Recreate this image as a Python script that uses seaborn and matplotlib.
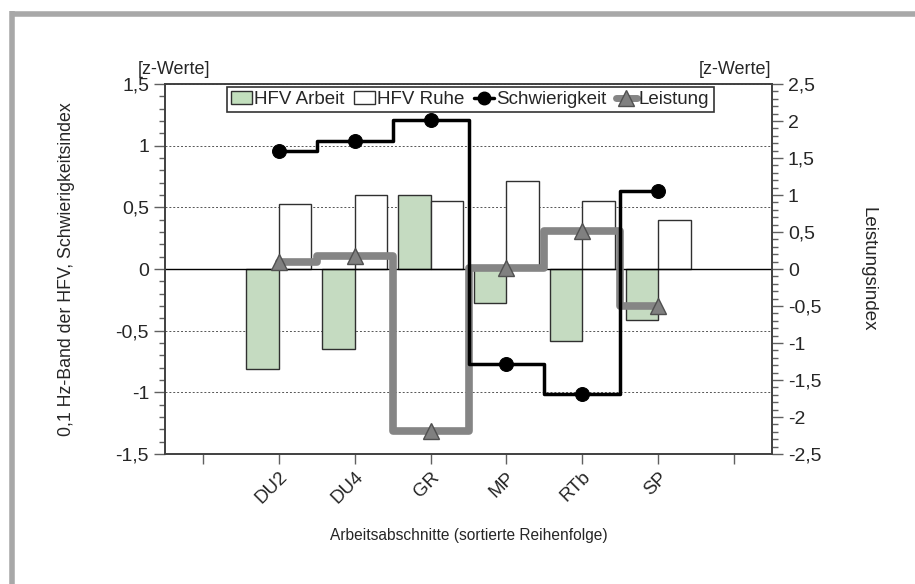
import matplotlib
matplotlib.use("Agg")
import matplotlib.pyplot as plt
from matplotlib.lines import Line2D
from matplotlib.patches import Patch
from matplotlib.ticker import MultipleLocator, FuncFormatter
import numpy as np
import pandas as pd
import seaborn as sns

# data (z-values)
abschnitte = ["DU2", "DU4", "GR", "MP", "RTb", "SP"]
slots = [""] + abschnitte + [" "]          # empty category left and right
hfv_arbeit = [-0.81, -0.645, 0.60, -0.275, -0.585, -0.41]
hfv_ruhe = [0.53, 0.60, 0.55, 0.71, 0.55, 0.40]
schwierigkeit = [0.96, 1.04, 1.205, -0.77, -1.01, 0.63]
leistung = [0.09, 0.18, -2.19, 0.01, 0.52, -0.50]

sns.set_style("ticks")
plt.rcParams["font.family"] = ["Liberation Sans", "DejaVu Sans"]
plt.rcParams["font.size"] = 12

green = "#c2dfbd"
grey_line = "#858585"

df = pd.DataFrame({
    "Abschnitt": abschnitte * 2,
    "Bedingung": ["HFV Arbeit"] * 6 + ["HFV Ruhe"] * 6,
    "z": hfv_arbeit + hfv_ruhe,
})
xpos = [slots.index(a) for a in abschnitte]

fig = plt.figure(figsize=(9.15, 5.84), dpi=100)
ax = fig.add_axes([165 / 915, 130 / 584, 607 / 915, 370 / 584])

sns.barplot(data=df, x="Abschnitt", y="z", hue="Bedingung", order=slots,
            hue_order=["HFV Arbeit", "HFV Ruhe"], palette=[green, "white"],
            width=0.86, errorbar=None, edgecolor="#303030", linewidth=1,
            legend=False, ax=ax)

ax.set_xlim(-0.5, len(slots) - 0.5)
ax.set_ylim(-1.5, 1.5)
comma = FuncFormatter(lambda v, p: ("%g" % v).replace(".", ","))
ax.yaxis.set_major_locator(MultipleLocator(0.5))
ax.yaxis.set_minor_locator(MultipleLocator(0.1))
ax.yaxis.set_major_formatter(comma)
ax.grid(axis="y", which="major", linestyle=(0, (2, 2)), color="#555555", lw=0.7)
ax.axhline(0, color="black", lw=1)
ax.tick_params(axis="y", which="major", length=8, width=1, color="#606060", labelsize=14)
ax.tick_params(axis="y", which="minor", length=4, width=1, color="#606060")
ax.tick_params(axis="x", length=7, width=1, color="#606060", labelsize=13.5)
ax.set_xticks(range(len(slots)))
ax.set_xticklabels(slots, rotation=45, ha="right", rotation_mode="anchor")
for s in ax.spines.values():
    s.set_visible(True)
    s.set_color("#404040")
    s.set_linewidth(1.2)
ax.set_xlabel("Arbeitsabschnitte (sortierte Reihenfolge)", fontsize=11.2)
ax.xaxis.set_label_coords(0.5, -0.2)
ax.set_ylabel("0,1 Hz-Band der HFV, Schwierigkeitsindex", fontsize=12.8)
ax.yaxis.set_label_coords(-0.148, 0.5)

# right axis: Leistung
ax2 = ax.twinx()
sns.lineplot(x=xpos, y=leistung, ax=ax2, drawstyle="steps-mid", color=grey_line,
             lw=5.5, solid_joinstyle="round", marker="^", markersize=12,
             markerfacecolor="#808080", markeredgecolor="#505050",
             markeredgewidth=1)
ax2.set_ylim(-2.5, 2.5)
ax2.yaxis.set_major_locator(MultipleLocator(0.5))
ax2.yaxis.set_minor_locator(MultipleLocator(0.1))
ax2.yaxis.set_major_formatter(comma)
ax2.tick_params(axis="y", which="major", length=8, width=1, color="#606060", labelsize=14)
ax2.tick_params(axis="y", which="minor", length=4, width=1, color="#606060")
for s in ax2.spines.values():
    s.set_visible(True)
    s.set_color("#404040")
    s.set_linewidth(1.2)
ax2.set_ylabel("Leistungsindex", fontsize=13.5, rotation=270, va="center")
ax2.yaxis.set_label_coords(1.158, 0.5)

# top layer: Schwierigkeit on the left scale
ax3 = ax.twinx()
sns.lineplot(x=xpos, y=schwierigkeit, ax=ax3, drawstyle="steps-mid", color="black",
             lw=2.5, marker="o", markersize=10, markerfacecolor="black",
             markeredgecolor="black")
ax3.set_ylim(-1.5, 1.5)
ax3.axis("off")

handles = [
    Patch(facecolor=green, edgecolor="#303030", label="HFV Arbeit"),
    Patch(facecolor="white", edgecolor="#303030", label="HFV Ruhe"),
    Line2D([], [], color="black", lw=2.5, marker="o", markersize=9, label="Schwierigkeit"),
    Line2D([], [], color=grey_line, lw=5, marker="^", markersize=11,
           markerfacecolor="#808080", markeredgecolor="#505050", label="Leistung"),
]
leg = ax3.legend(handles=handles, loc="upper center", bbox_to_anchor=(0.503, 0.992),
                 ncol=4, frameon=True, fancybox=False, fontsize=13.5,
                 handlelength=1.1, handletextpad=0.12, columnspacing=0.5,
                 borderpad=0.22, borderaxespad=0)
leg.get_frame().set_edgecolor("black")
leg.get_frame().set_linewidth(1.2)

fig.text(174 / 915, 1 - 70 / 584, "[z-Werte]", ha="center", va="center", fontsize=13)
fig.text(771 / 915, 1 - 70 / 584, "[z-Werte]", ha="right", va="center", fontsize=13)

# grey frame at left and top
frame = "#a8a8a8"
fig.add_artist(Line2D([11.5 / 915, 11.5 / 915], [0, 1 - 11 / 584], color=frame, lw=4,
                      solid_capstyle="butt", transform=fig.transFigure))
fig.add_artist(Line2D([9.5 / 915, 1], [1 - 13.5 / 584, 1 - 13.5 / 584], color=frame, lw=4,
                      solid_capstyle="butt", transform=fig.transFigure))

fig.savefig("out.png", dpi=100)
